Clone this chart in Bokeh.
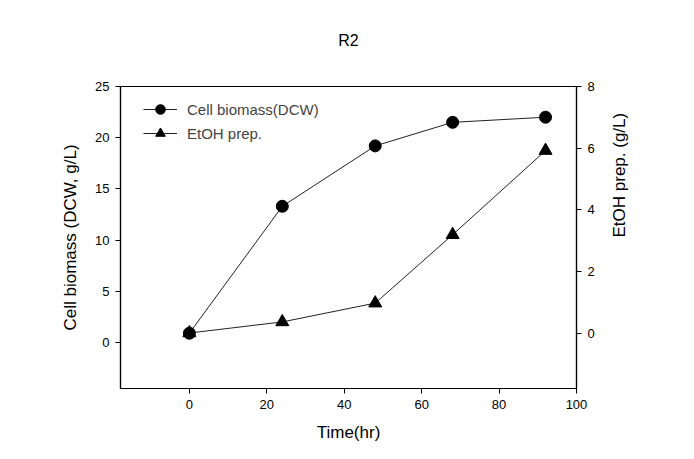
import math
from bokeh.plotting import figure
from bokeh.models import Range1d, LinearAxis, FixedTicker, Legend, LegendItem, Title
from bokeh.embed import file_html
from bokeh.resources import INLINE

time_hr = [0, 24, 48, 68, 92]
biomass = [0.9, 13.3, 19.2, 21.5, 22.0]
etoh = [0.0, 0.36, 0.97, 3.19, 5.92]

x_ticks = [0, 20, 40, 60, 80, 100]
left_ticks = [0, 5, 10, 15, 20, 25]
right_ticks = [0, 2, 4, 6, 8]

FONT = "Liberation Sans"

W, H = 686, 451
p = figure(width=W, height=H, output_backend="svg", toolbar_location=None,
           x_range=Range1d(-17.8, 100), y_range=Range1d(-4.5, 25),
           min_border_left=120, min_border_right=W - 576, min_border_top=86,
           min_border_bottom=H - 388)

spacer = Title(text=" ", text_font_size="28px", standoff=0)
p.add_layout(spacer, "above")
main_title = Title(text="R2", align="center", text_font=FONT, text_font_size="16px",
                   text_font_style="normal", text_color="black")
p.add_layout(main_title, "above")

p.extra_y_ranges = {"etoh": Range1d(-1.8, 8)}

p.xgrid.visible = False
p.ygrid.visible = False
p.outline_line_color = "black"
p.outline_line_width = 1.2
p.background_fill_color = "white"
p.border_fill_color = "white"

def style_axis(ax, ticks):
    ax.ticker = FixedTicker(ticks=ticks)
    ax.major_tick_in = 0
    ax.major_tick_out = 5
    ax.minor_tick_line_color = None
    ax.axis_line_color = "black"
    ax.axis_line_width = 1.2
    ax.major_tick_line_color = "black"
    ax.major_label_text_font = FONT
    ax.major_label_text_font_size = "13px"
    ax.major_label_text_color = "black"
    ax.axis_label_text_font = FONT
    ax.axis_label_text_font_size = "17px"
    ax.axis_label_text_font_style = "normal"
    ax.axis_label_text_color = "black"

style_axis(p.xaxis[0], x_ticks)
p.xaxis[0].axis_label = "Time(hr)"
p.xaxis[0].axis_label_standoff = 11
p.xaxis[0].major_label_standoff = 6

style_axis(p.yaxis[0], left_ticks)
p.yaxis[0].axis_label = "Cell biomass (DCW, g/L)"
p.yaxis[0].axis_label_standoff = 12
p.yaxis[0].major_label_standoff = 6

right = LinearAxis(y_range_name="etoh")
style_axis(right, right_ticks)
right.axis_label = "EtOH prep. (g/L)"
right.axis_label_standoff = 22
right.major_label_standoff = 6
props = right.properties()
if "axis_label_orientation" in props:
    right.axis_label_orientation = math.pi / 2
if "axis_label_align" in props:
    right.axis_label_align = "center"
p.add_layout(right, "right")

l1 = p.line(time_hr, biomass, line_color="#222222", line_width=1)
s1 = p.scatter(time_hr, biomass, marker="circle", size=12, fill_color="black", line_color="black")
l2 = p.line(time_hr, etoh, line_color="#222222", line_width=1, y_range_name="etoh")
s2 = p.scatter(time_hr, etoh, marker="triangle", size=13, fill_color="black", line_color="black",
               y_range_name="etoh")

legend = Legend(items=[LegendItem(label="Cell biomass(DCW)", renderers=[l1, s1]),
                       LegendItem(label="EtOH prep.", renderers=[l2, s2])],
                location=(23, 243))
legend.border_line_color = None
legend.background_fill_alpha = 0
legend.margin = 0
legend.padding = 0
legend.spacing = -9
legend.glyph_width = 34
legend.glyph_height = 24
legend.label_height = 15
legend.label_standoff = 10
legend.label_text_font = FONT
legend.label_text_font_size = "15px"
p.add_layout(legend)

open("out.html", "w").write(file_html(p, INLINE))
